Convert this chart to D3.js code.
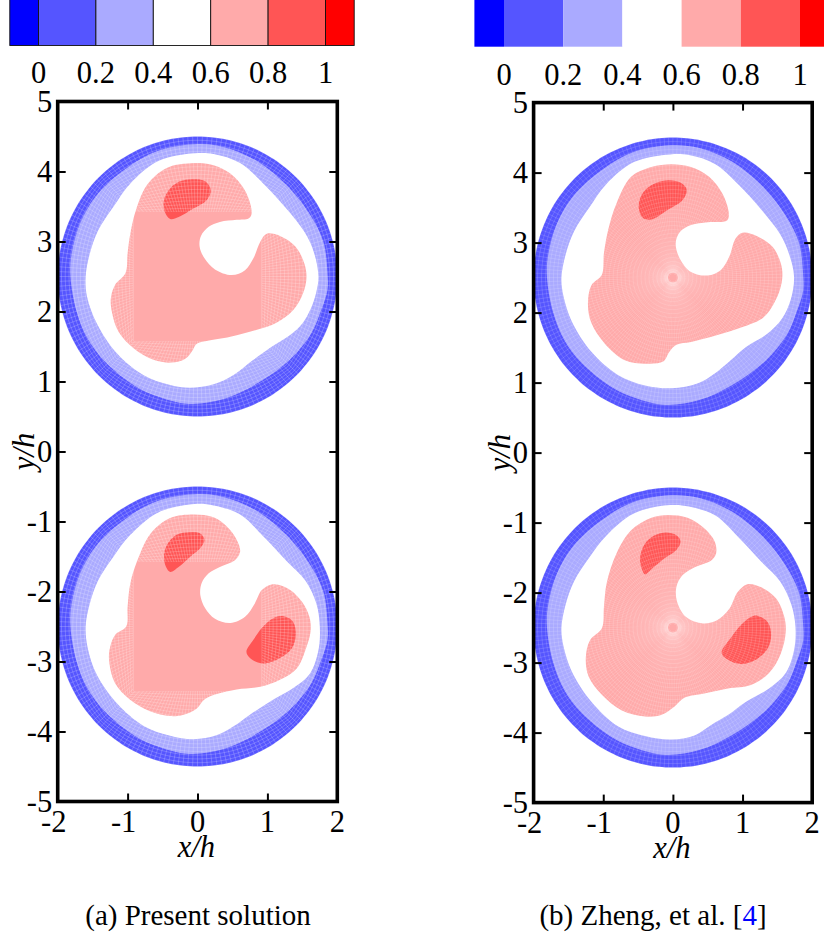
<!DOCTYPE html>
<html><head><meta charset="utf-8">
<script src="https://d3js.org/d3.v7.min.js"></script>
<style>html,body{margin:0;padding:0;background:#fff}svg{display:block}
text{font-family:"Liberation Serif",serif;fill:#000}</style></head>
<body><svg id="c" width="824" height="939"></svg>
<script>
// ---- data: contour outlines, relative to each drop centre, in units of h ----
const levels = [0, 0.2, 0.4, 0.6, 0.8, 1];
const levelEdges = [-0.1, 0, 0.2, 0.4, 0.6, 0.8, 1, 1.1];
const levelColors = ["#0000ff", "#5555ff", "#aaaaff", "#ffffff", "#ffaaaa", "#ff5555", "#ff0000"];
const levelLabels = ["0", "0.2", "0.4", "0.6", "0.8", "1"];
const xTicks = [-2, -1, 0, 1, 2];
const yTicks = [5, 4, 3, 2, 1, 0, -1, -2, -3, -4, -5];
const dropCentres = [2.5, -2.5];
const outerRadius = 2;

const lightEdge = [[-0.04,1.89],[0.37,1.85],[0.85,1.65],[1.30,1.28],[1.60,0.90],[1.80,0.50],[1.86,0.05],[1.86,-0.19],[1.77,-0.48],[1.63,-0.81],[1.32,-1.19],[0.85,-1.53],[0.37,-1.75],[-0.11,-1.82],[-0.55,-1.72],[-0.90,-1.56],[-1.33,-1.21],[-1.57,-0.89],[-1.73,-0.50],[-1.82,0.03],[-1.80,0.33],[-1.68,0.76],[-1.46,1.14],[-1.08,1.50],[-0.61,1.78]];

const blueTopA = [[-1.60,0.00],[-1.54,0.33],[-1.42,0.66],[-1.20,1.00],[-0.96,1.33],[-0.56,1.65],[-0.04,1.76],[0.23,1.75],[0.61,1.62],[0.94,1.33],[1.27,0.97],[1.54,0.62],[1.67,0.33]];
const blueTopB = [[-1.60,0.00],[-1.54,0.33],[-1.42,0.66],[-1.20,1.00],[-0.96,1.31],[-0.56,1.63],[-0.04,1.75],[0.23,1.73],[0.61,1.60],[0.94,1.29],[1.27,0.94],[1.54,0.66],[1.70,0.33]];

const a1BlueLow = [[1.73,0.00],[1.70,-0.22],[1.62,-0.46],[1.50,-0.67],[1.32,-0.84],[1.05,-1.01],[0.80,-1.19],[0.51,-1.41],[0.23,-1.54],[-0.11,-1.59],[-0.39,-1.55],[-0.77,-1.41],[-1.15,-1.10],[-1.44,-0.67],[-1.58,-0.29]];
const a1Pink = [[-0.06,1.62],[0.23,1.59],[0.47,1.47],[0.66,1.26],[0.76,1.02],[0.77,0.88],[0.73,0.83],[0.56,0.81],[0.32,0.78],[0.16,0.71],[0.05,0.58],[0.03,0.43],[0.10,0.26],[0.25,0.10],[0.49,0.02],[0.68,0.09],[0.80,0.26],[0.90,0.50],[0.99,0.61],[1.18,0.58],[1.40,0.43],[1.52,0.21],[1.56,0.00],[1.51,-0.24],[1.37,-0.48],[1.13,-0.66],[0.85,-0.76],[0.47,-0.86],[0.13,-0.92],[-0.01,-0.96],[-0.08,-1.07],[-0.18,-1.18],[-0.37,-1.23],[-0.63,-1.19],[-0.91,-1.03],[-1.13,-0.79],[-1.22,-0.53],[-1.24,-0.31],[-1.18,-0.12],[-1.03,0.05],[-1.00,0.33],[-0.96,0.62],[-0.88,0.95],[-0.72,1.31],[-0.44,1.55]];
const a1Red = [[-0.08,1.39],[0.11,1.36],[0.19,1.23],[0.13,1.09],[-0.06,0.97],[-0.27,0.85],[-0.39,0.82],[-0.47,0.93],[-0.48,1.09],[-0.39,1.26],[-0.25,1.36]];

const a2BlueLow = [[1.75,0.00],[1.73,-0.34],[1.61,-0.67],[1.37,-0.88],[1.04,-1.07],[0.75,-1.26],[0.51,-1.43],[0.28,-1.55],[-0.06,-1.61],[-0.39,-1.56],[-0.77,-1.42],[-1.15,-1.10],[-1.44,-0.69],[-1.57,-0.31]];
const a2Pink = [[-0.06,1.60],[0.23,1.56],[0.42,1.43],[0.56,1.24],[0.61,1.07],[0.54,0.95],[0.32,0.85],[0.16,0.76],[0.06,0.62],[0.04,0.45],[0.11,0.26],[0.25,0.11],[0.47,0.05],[0.68,0.14],[0.82,0.33],[0.92,0.52],[1.06,0.60],[1.28,0.55],[1.49,0.36],[1.60,0.14],[1.62,-0.05],[1.56,-0.29],[1.42,-0.60],[1.18,-0.76],[0.90,-0.86],[0.56,-0.90],[0.23,-0.98],[0.09,-1.05],[-0.01,-1.17],[-0.20,-1.26],[-0.39,-1.28],[-0.68,-1.21],[-0.96,-1.05],[-1.18,-0.81],[-1.26,-0.53],[-1.26,-0.34],[-1.18,-0.12],[-1.02,0.00],[-1.00,0.28],[-0.96,0.62],[-0.85,0.97],[-0.67,1.33],[-0.39,1.55]];
const a2RedA = [[-0.10,1.35],[0.04,1.33],[0.10,1.24],[0.04,1.12],[-0.10,1.00],[-0.27,0.85],[-0.39,0.78],[-0.45,0.85],[-0.48,1.00],[-0.44,1.16],[-0.30,1.31]];
const a2RedB = [[1.20,0.15],[1.35,0.09],[1.41,-0.10],[1.35,-0.31],[1.18,-0.45],[0.94,-0.53],[0.75,-0.45],[0.70,-0.36],[0.80,-0.19],[0.94,0.00],[1.09,0.12]];

const b1BlueLow = [[1.74,0.01],[1.69,-0.32],[1.57,-0.58],[1.36,-0.80],[1.05,-0.99],[0.83,-1.18],[0.60,-1.37],[0.36,-1.51],[-0.02,-1.58],[-0.40,-1.54],[-0.79,-1.39],[-1.17,-1.06],[-1.45,-0.63],[-1.57,-0.27]];
const b1Pink = [[-0.02,1.62],[0.26,1.58],[0.52,1.44],[0.71,1.20],[0.80,0.94],[0.79,0.83],[0.74,0.80],[0.50,0.79],[0.26,0.75],[0.10,0.65],[0.04,0.49],[0.10,0.27],[0.26,0.08],[0.50,0.03],[0.69,0.11],[0.81,0.30],[0.90,0.56],[1.00,0.64],[1.21,0.59],[1.43,0.44],[1.55,0.20],[1.57,-0.01],[1.50,-0.27],[1.31,-0.56],[1.02,-0.70],[0.64,-0.82],[0.26,-0.92],[0.05,-0.96],[-0.05,-1.06],[-0.14,-1.20],[-0.40,-1.23],[-0.69,-1.18],[-0.98,-0.94],[-1.17,-0.65],[-1.22,-0.37],[-1.17,-0.11],[-1.02,0.04],[-0.99,0.35],[-0.93,0.68],[-0.81,1.06],[-0.60,1.44],[-0.31,1.58]];
const b1Red = [[-0.07,1.39],[0.12,1.35],[0.20,1.25],[0.14,1.11],[-0.07,0.97],[-0.31,0.83],[-0.43,0.85],[-0.49,0.99],[-0.45,1.18],[-0.31,1.32]];

const b2BlueLow = [[1.76,0.01],[1.74,-0.32],[1.62,-0.65],[1.38,-0.87],[1.05,-1.06],[0.79,-1.25],[0.55,-1.39],[0.31,-1.54],[-0.02,-1.60],[-0.40,-1.55],[-0.79,-1.41],[-1.17,-1.06],[-1.45,-0.63],[-1.57,-0.27]];
const b2Pink = [[-0.07,1.61],[0.21,1.57],[0.45,1.42],[0.60,1.23],[0.62,1.06],[0.55,0.96],[0.33,0.87],[0.14,0.75],[0.05,0.58],[0.06,0.37],[0.19,0.15],[0.43,0.06],[0.64,0.11],[0.81,0.27],[0.93,0.51],[1.07,0.62],[1.26,0.58],[1.48,0.42],[1.60,0.15],[1.62,-0.06],[1.55,-0.37],[1.38,-0.65],[1.12,-0.82],[0.79,-0.87],[0.45,-0.94],[0.17,-1.00],[0.02,-1.13],[-0.17,-1.25],[-0.40,-1.27],[-0.74,-1.18],[-1.02,-0.96],[-1.21,-0.70],[-1.25,-0.42],[-1.19,-0.18],[-1.02,-0.01],[-0.99,0.30],[-0.95,0.64],[-0.81,1.06],[-0.60,1.39],[-0.31,1.57]];
const b2RedA = [[-0.10,1.36],[0.05,1.32],[0.11,1.23],[0.05,1.11],[-0.12,0.99],[-0.29,0.85],[-0.40,0.76],[-0.45,0.85],[-0.47,1.01],[-0.40,1.20],[-0.26,1.32]];
const b2RedB = [[1.21,0.17],[1.36,0.08],[1.41,-0.11],[1.36,-0.30],[1.19,-0.46],[0.98,-0.52],[0.79,-0.46],[0.70,-0.36],[0.83,-0.15],[0.98,0.04],[1.12,0.15]];

// ---- layout ----
const svg = d3.select("#c");
const defs = svg.append("defs");
const FONT = 30.5;
const panels = [
  { id:"a", L:57.7, R:337.3, T:101.5, B:801.5, cb:[38.5,325.5], cbY:45.5, cbStroke:true, cbLabelY:82.7, xlabelY:857, caption:"(a) Present solution", capX:198,
    drops:[{blue:blueTopA.concat(a1BlueLow),pink:a1Pink,reds:[a1Red]},{blue:blueTopB.concat(a2BlueLow),pink:a2Pink,reds:[a2RedA,a2RedB]}], mesh:"ogrid" },
  { id:"b", L:533.6, R:812.2, T:102.6, B:802.6, cb:[504,800], cbY:46.7, cbStroke:false, cbLabelY:85, xlabelY:858, caption:null, capX:653,
    drops:[{blue:blueTopA.concat(b1BlueLow),pink:b1Pink,reds:[b1Red]},{blue:blueTopB.concat(b2BlueLow),pink:b2Pink,reds:[b2RedA,b2RedB]}], mesh:"polar" }
];

panels.forEach(p => {
  const x = d3.scaleLinear().domain([-2,2]).range([p.L,p.R]);
  const y = d3.scaleLinear().domain([-5,5]).range([p.B,p.T]);
  const g = svg.append("g");

  // colour bar
  const cbx = d3.scaleLinear().domain([0,1]).range(p.cb);
  const cells = d3.pairs(levelEdges).map((e,i)=>({a:e[0],b:e[1],c:levelColors[i]}));
  g.selectAll("rect.cell").data(cells).join("rect").attr("class","cell")
    .attr("x",d=>cbx(d.a)).attr("width",d=>cbx(d.b)-cbx(d.a))
    .attr("y",-2).attr("height",p.cbY+2).attr("fill",d=>d.c)
    .attr("stroke",p.cbStroke?"#111":"none").attr("stroke-width",p.cbStroke?0.9:0);
  g.selectAll("text.cbl").data(levels).join("text").attr("class","cbl")
    .attr("x",d=>cbx(d)).attr("y",p.cbLabelY).attr("text-anchor","middle")
    .attr("font-size",FONT).text((d,i)=>levelLabels[i]);

  // clip
  const clipId = "clip-"+p.id;
  defs.append("clipPath").attr("id",clipId).append("rect")
    .attr("x",p.L).attr("y",p.T).attr("width",p.R-p.L).attr("height",p.B-p.T);
  const plot = g.append("g").attr("clip-path",`url(#${clipId})`);

  const closed = cy => d3.line().x(d=>x(d[0])).y(d=>y(cy+d[1])).curve(d3.curveCatmullRomClosed.alpha(0.5));
  const open = cy => d3.line().x(d=>x(d[0])).y(d=>y(cy+d[1]));

  p.drops.forEach((dr,i)=>{
    const cy = dropCentres[i];
    const line = closed(cy);
    const circle = d3.range(0,360,3).map(a=>[outerRadius*Math.cos(a*Math.PI/180),outerRadius*Math.sin(a*Math.PI/180)]);
    plot.append("path").attr("d",line(circle)).attr("fill",levelColors[1]);
    plot.append("path").attr("d",line(lightEdge.map(d=> p.id==="b"?[d[0]+0.01,d[1]]:d))).attr("fill",levelColors[2]);
    plot.append("path").attr("d",line(dr.blue)).attr("fill","#fff");
    plot.append("path").attr("d",line(dr.pink)).attr("fill",levelColors[4]);
    dr.reds.forEach(r=>plot.append("path").attr("d",line(r)).attr("fill",levelColors[5]));

    // computational mesh, faint white lines over the filled contours
    const meshG = plot.append("g").attr("fill","none").attr("stroke","#fff");
    const ln = open(cy);
    const paths = [];
    if (p.mesh==="ogrid") {
      const hw = 0.92;
      const sq = a => { const c=Math.cos(a),s=Math.sin(a),m=Math.max(Math.abs(c),Math.abs(s)); return [hw*c/m,hw*s/m]; };
      const pt = (a,t)=>{ const q=sq(a); return [q[0]+(outerRadius*Math.cos(a)-q[0])*t, q[1]+(outerRadius*Math.sin(a)-q[1])*t]; };
      d3.range(0,180).forEach(k=>{ const a=k/180*2*Math.PI; paths.push([pt(a,0),pt(a,1)]); });
      d3.range(0,21).forEach(k=>{ const t=k/20; paths.push(d3.range(0,241).map(j=>pt(j/240*2*Math.PI,t))); });
      meshG.attr("stroke-width",0.6).attr("stroke-opacity",0.34);
    } else {
      d3.range(0,200).forEach(k=>{ const a=k/200*2*Math.PI; paths.push([[0.07*Math.cos(a),0.07*Math.sin(a)],[outerRadius*Math.cos(a),outerRadius*Math.sin(a)]]); });
      d3.range(1,36).forEach(k=>{ const r=k/35*outerRadius; paths.push(d3.range(0,181).map(j=>{const a=j/180*2*Math.PI;return [r*Math.cos(a),r*Math.sin(a)];})); });
      meshG.attr("stroke-width",0.55).attr("stroke-opacity",0.26);
    }
    meshG.selectAll("path").data(paths).join("path").attr("d",ln);
    if (p.mesh==="ogrid") {
      // solid core block of the O-grid: covers the mesh, shapes clipped to it
      const hw = 0.92, cid=`core-${p.id}-${i}`;
      defs.append("clipPath").attr("id",cid).append("rect")
        .attr("x",x(-hw)).attr("y",y(cy+hw)).attr("width",x(hw)-x(-hw)).attr("height",y(cy-hw)-y(cy+hw));
      const core = plot.append("g").attr("clip-path",`url(#${cid})`);
      core.append("rect").attr("x",p.L).attr("y",p.T).attr("width",p.R-p.L).attr("height",p.B-p.T).attr("fill","#fff");
      core.append("path").attr("d",line(dr.pink)).attr("fill",levelColors[4]);
      dr.reds.forEach(r=>core.append("path").attr("d",line(r)).attr("fill",levelColors[5]));
    }
  });

  // axes with inward ticks on all four sides
  const tick = 8, sw = 2;
  const style = s => { s.selectAll(".domain").remove(); s.selectAll(".tick line").attr("stroke","#000").attr("stroke-width",sw); s.selectAll(".tick text").remove(); };
  g.append("g").attr("transform",`translate(0,${p.B})`).call(d3.axisBottom(x).tickValues(xTicks.slice(1,-1)).tickSizeInner(-tick).tickSizeOuter(0)).call(style);
  g.append("g").attr("transform",`translate(0,${p.T})`).call(d3.axisTop(x).tickValues(xTicks.slice(1,-1)).tickSizeInner(-tick).tickSizeOuter(0)).call(style);
  g.append("g").attr("transform",`translate(${p.L},0)`).call(d3.axisLeft(y).tickValues(yTicks.slice(1,-1)).tickSizeInner(-tick).tickSizeOuter(0)).call(style);
  g.append("g").attr("transform",`translate(${p.R},0)`).call(d3.axisRight(y).tickValues(yTicks.slice(1,-1)).tickSizeInner(-tick).tickSizeOuter(0)).call(style);

  g.append("rect").attr("x",p.L).attr("y",p.T).attr("width",p.R-p.L).attr("height",p.B-p.T)
    .attr("fill","none").attr("stroke","#000").attr("stroke-width",3.6);

  g.selectAll("text.xt").data(xTicks).join("text").attr("class","xt")
    .attr("x",d=>x(d)-(d<0?4:0)).attr("y",p.B+30.5).attr("text-anchor","middle").attr("font-size",FONT).text(d=>d);
  g.selectAll("text.yt").data(yTicks).join("text").attr("class","yt")
    .attr("x",p.L-5.5).attr("y",d=>y(d)+10.5).attr("text-anchor","end").attr("font-size",FONT).text(d=>d);

  g.append("text").attr("x",x(0)-1).attr("y",p.xlabelY).attr("text-anchor","middle").attr("font-size",FONT).attr("font-style","italic").text("x/h");
  g.append("text").attr("transform",`translate(${p.L-24},${y(0)}) rotate(-90)`).attr("text-anchor","middle").attr("font-size",FONT).attr("font-style","italic").text("y/h");

  const cap = g.append("text").attr("x",p.capX).attr("y",925).attr("text-anchor","middle").attr("font-size",29);
  if (p.caption) cap.text(p.caption);
  else { cap.append("tspan").text("(b) Zheng, et al. ["); cap.append("tspan").style("fill","#0000ff").text("4"); cap.append("tspan").text("]"); }
});
</script></body></html>
